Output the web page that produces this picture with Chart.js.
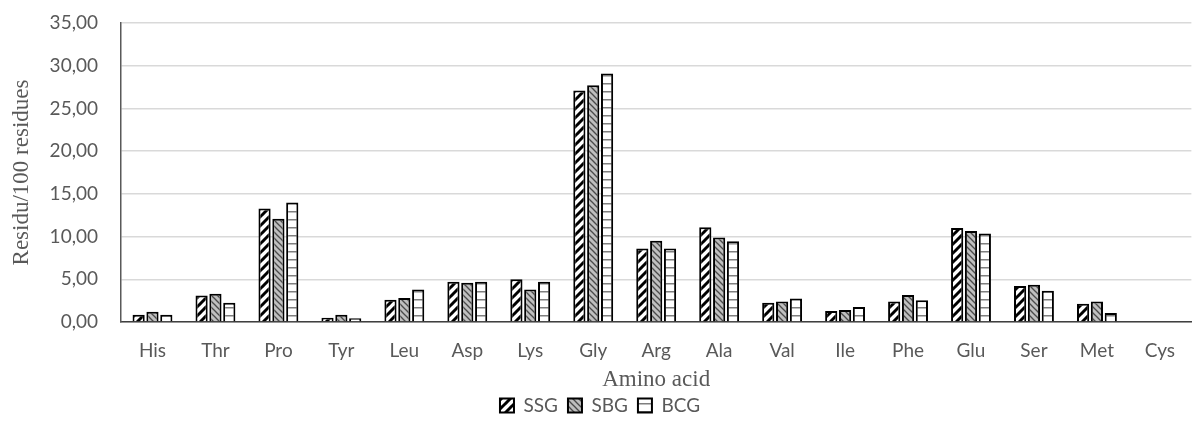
<!DOCTYPE html>
<html>
<head>
<meta charset="utf-8">
<script src="https://cdn.jsdelivr.net/npm/chart.js@4.4.0/dist/chart.umd.min.js"></script>
<style>
  html, body { margin: 0; padding: 0; background: #fff; }
  #wrap { width: 1192px; height: 423px; }
</style>
</head>
<body>
<div id="wrap"><canvas id="chart"></canvas></div>
<script>
const categories = ['His', 'Thr', 'Pro', 'Tyr', 'Leu', 'Asp', 'Lys', 'Gly', 'Arg', 'Ala', 'Val', 'Ile', 'Phe', 'Glu', 'Ser', 'Met', 'Cys'];
const ssgValues = [0.85, 3.1, 13.3, 0.5, 2.6, 4.7, 5.0, 27.1, 8.6, 11.1, 2.25, 1.3, 2.4, 11.0, 4.2, 2.15, 0];
const sbgValues = [1.2, 3.3, 12.1, 0.85, 2.8, 4.6, 3.8, 27.7, 9.5, 9.9, 2.4, 1.4, 3.15, 10.65, 4.35, 2.4, 0];
const bcgValues = [0.85, 2.25, 14.0, 0.45, 3.8, 4.7, 4.7, 29.1, 8.6, 9.45, 2.75, 1.75, 2.55, 10.35, 3.65, 1.05, 0];
const yTicks = [0, 5, 10, 15, 20, 25, 30, 35];

// little tiles used as fill patterns
function makePattern(size, draw) {
  const c = document.createElement('canvas');
  c.width = size; c.height = size;
  const g = c.getContext('2d');
  draw(g, size);
  return g.createPattern(c, 'repeat');
}

const ssgFill = makePattern(9, (g, s) => {
  g.fillStyle = '#fff'; g.fillRect(0, 0, s, s);
  g.strokeStyle = '#000'; g.lineWidth = 3;
  for (let k = -1; k <= 1; k++) {
    g.beginPath();
    g.moveTo(k * s - 1, s + 1);
    g.lineTo(k * s + s + 1, -1);
    g.stroke();
  }
});

const sbgFill = makePattern(6, (g, s) => {
  g.fillStyle = '#bfbfbf'; g.fillRect(0, 0, s, s);
  g.strokeStyle = '#4a4a4a'; g.lineWidth = 1.3;
  for (let k = -1; k <= 1; k++) {
    g.beginPath();
    g.moveTo(k * s - 1, -1);
    g.lineTo(k * s + s + 1, s + 1);
    g.stroke();
  }
});

const bcgFill = makePattern(8, (g, s) => {
  g.fillStyle = '#fff'; g.fillRect(0, 0, s, s);
  g.fillStyle = '#7f7f7f';
  g.fillRect(0, 3, s, 1.5);
});

const sansFont = 'Lato, "Open Sans", sans-serif';
const tickFont = { family: sansFont, size: 19 };
const titleFont = { family: '"Liberation Serif", "DejaVu Serif", serif', size: 23 };

new Chart(document.getElementById('chart'), {
  type: 'bar',
  data: {
    labels: categories,
    datasets: [
      { label: 'SSG', data: ssgValues, backgroundColor: ssgFill, borderColor: '#000', borderWidth: 2 },
      { label: 'SBG', data: sbgValues, backgroundColor: sbgFill, borderColor: '#000', borderWidth: 2 },
      { label: 'BCG', data: bcgValues, backgroundColor: bcgFill, borderColor: '#000', borderWidth: 2 }
    ]
  },
  options: {
    responsive: true,
    maintainAspectRatio: false,
    animation: false,
    layout: { padding: { top: 23, right: 0, left: 8, bottom: 0 } },
    datasets: { bar: { categoryPercentage: 0.66, barPercentage: 0.88 } },
    plugins: {
      tooltip: { enabled: false },
      legend: {
        position: 'bottom',
        maxHeight: 37,
        labels: {
          color: '#595959',
          font: { family: sansFont, size: 19 },
          boxWidth: 14,
          boxHeight: 14,
          padding: 10,
          generateLabels(chart) {
            return chart.data.datasets.map((ds, i) => ({
              text: ds.label,
              fillStyle: ds.backgroundColor,
              strokeStyle: '#000',
              lineWidth: 2,
              fontColor: '#595959',
              datasetIndex: i
            }));
          }
        }
      }
    },
    scales: {
      x: {
        afterFit(scale) { scale.height = 64; },
        grid: { display: false, drawTicks: false },
        border: { color: '#404040', width: 1.5 },
        ticks: { color: '#595959', font: tickFont, padding: 17 },
        title: { display: true, text: 'Amino acid', color: '#595959', font: titleFont, padding: { top: 0, bottom: -8 } }
      },
      y: {
        min: 0,
        max: 35,
        afterBuildTicks(scale) {
          scale.ticks = yTicks.map(v => ({ value: v }));
        },
        afterFit(scale) { scale.width = 113; },
        // invisible tick marks keep the labels away from the axis line
        grid: { color: '#d9d9d9', lineWidth: 1.5, drawTicks: true, tickLength: 23, tickColor: 'rgba(0,0,0,0)' },
        border: { color: '#595959', width: 1.5 },
        ticks: {
          color: '#595959',
          font: tickFont,
          padding: 0,
          callback: v => v.toFixed(2).replace('.', ',')
        },
        title: { display: true, text: 'Residu/100 residues', color: '#595959', font: titleFont, padding: { top: 0, bottom: 0 } }
      }
    }
  }
});
</script>
</body>
</html>
